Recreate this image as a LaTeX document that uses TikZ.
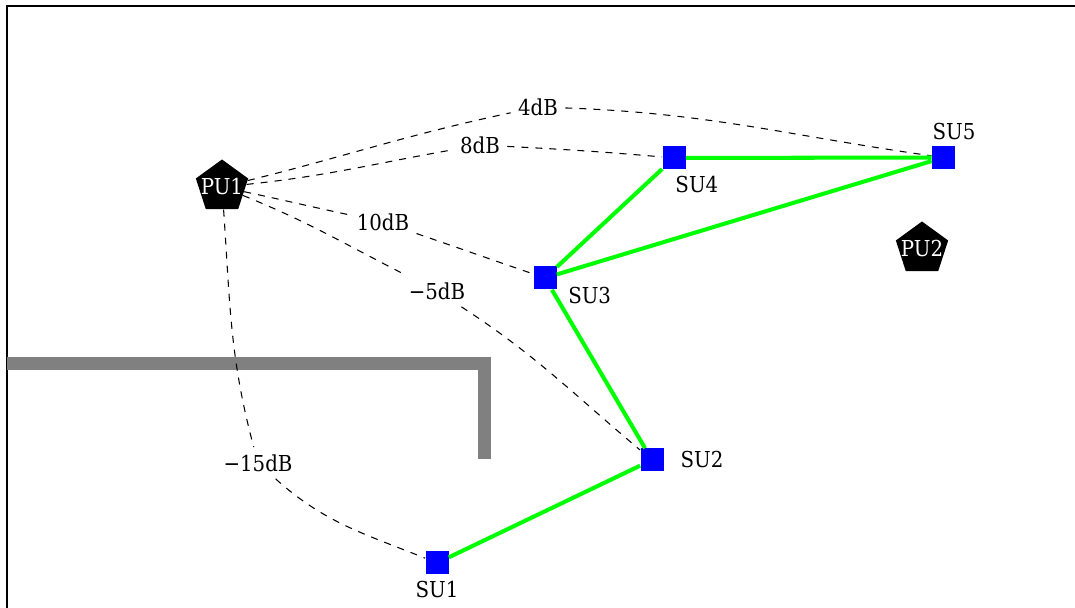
\documentclass[tikz,border=0pt]{standalone}
\usepackage{fontspec}
\setmainfont{DejaVu Serif Condensed}
\usetikzlibrary{shapes.geometric}

\begin{document}
\begin{tikzpicture}[font=\fontsize{12.5}{15}\selectfont,
  pu/.style = {regular polygon, regular polygon sides=5, fill=black, inner sep=0pt, minimum size=1.1cm},
  su/.style = {rectangle, fill=blue, inner sep=0pt, minimum size=0.46cm},
  link/.style = {green, line width=2.3pt},
  gain/.style = {line width=0.6pt, dash pattern=on 4pt off 4pt},
  db/.style = {inner sep=4pt},
  wall/.style = {gray, line width=0.27cm}]
\useasboundingbox (0,0) rectangle (21.5,12.16);
\draw[line width=1pt] (21.6,12.04) -- (0.14,12.04) -- (0.14,-0.1);
\draw[wall] (0.14,4.89) -- (9.69,4.89) -- (9.69,2.98);

\path (4.44,8.42) node[pu, label={[white]center:PU1}] (PU1) {};
\path (18.44,7.18) node[pu, label={[white]center:PU2}] (PU2) {};
\path (8.74,0.90) node[su, label=below:SU1] (SU1) {};
\path (13.04,2.96) node[su, label={[label distance=6pt]right:SU2}] (SU2) {};
\path (10.90,6.60) node[su, label={[label distance=3pt]-10:SU3}] (SU3) {};
\path (13.48,9.00) node[su, label={[xshift=13pt]below:SU4}] (SU4) {};
\path (18.87,9.01) node[su, label={[xshift=6pt]above:SU5}] (SU5) {};

\path (10.76,10.02) node[db] (g4) {4dB};
\path (9.60,9.26) node[db] (g8) {8dB};
\path (7.66,7.72) node[db] (g10) {10dB};
\path (8.74,6.34) node[db] (g5) {−5dB};
\path (5.16,2.90) node[db] (g15) {−15dB};

\draw[gain] (PU1) to[out=14, in=-168] (g4) to[out=-2, in=172] (SU5);
\draw[gain] (PU1) to[out=6, in=-170] (g8) to[out=-3, in=175] (SU4);
\draw[gain] (PU1) to[out=-12, in=168] (g10) to[out=-19, in=161] (SU3);
\draw[gain] (PU1) to[out=-22, in=153] (g5) to[out=-33, in=140] (SU2);
\draw[gain] (PU1) to[out=-86, in=105] (g15) to[out=-42, in=158] (SU1);

\draw[link] (SU1) -- (SU2) -- (SU3) -- (SU4) -- (SU5) -- (SU3);
\end{tikzpicture}
\end{document}
